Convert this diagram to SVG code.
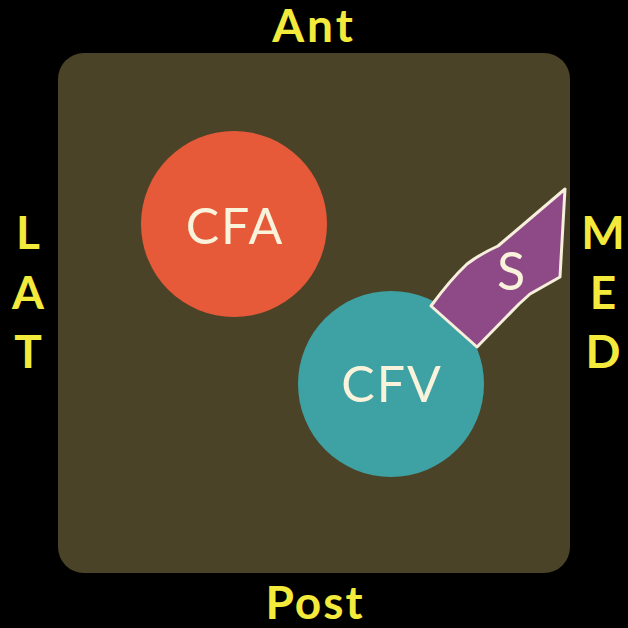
<svg xmlns="http://www.w3.org/2000/svg" width="628" height="628" viewBox="0 0 628 628">
  <style>
    .dir { font-family: Lato, "Open Sans", "Liberation Sans", sans-serif; font-weight: 700; fill: #f3ea3c; text-anchor: middle; }
    .lbl { font-family: Lato, "Open Sans", "Liberation Sans", sans-serif; fill: #faf3dc; text-anchor: middle; }
  </style>
  <defs>
    <filter id="shadow" x="-20%" y="-20%" width="140%" height="140%">
      <feDropShadow dx="1" dy="1.5" stdDeviation="1" flood-color="#000" flood-opacity="0.45"/>
    </filter>
  </defs>
  <rect width="628" height="628" fill="#000"/>
  <!-- field -->
  <rect id="field" x="58" y="53" width="512" height="520" rx="26" fill="#4b4327"/>

  <!-- orientation labels -->
  <g id="orientation">
    <text class="dir" x="314" y="42" font-size="46" letter-spacing="3">Ant</text>
    <text class="dir" x="315" y="619" font-size="46" letter-spacing="2">Post</text>
    <text class="dir" x="28" y="249" font-size="46">L</text>
    <text class="dir" x="28" y="309" font-size="46">A</text>
    <text class="dir" x="28" y="368" font-size="46">T</text>
    <text class="dir" x="603" y="249" font-size="46">M</text>
    <text class="dir" x="603" y="309" font-size="46">E</text>
    <text class="dir" x="603" y="368" font-size="46">D</text>
  </g>

  <g id="CFA">
    <circle cx="234" cy="224" r="93" fill="#e65a3a"/>
    <text class="lbl" x="235" y="244" font-size="50" letter-spacing="2">CFA</text>
  </g>

  <g id="CFV">
    <circle cx="391" cy="384" r="93" fill="#3ea2a4"/>
    <text class="lbl" x="392" y="402" font-size="50" letter-spacing="2">CFV</text>
  </g>

  <g id="S">
    <path d="M565,189 L560,277 L530,294 L519,304 L477,347 L431,306 Q450,280 467,264 Q480,254 498,246 Z" fill="#8d4a86" stroke="#f6efdc" stroke-width="3" stroke-linejoin="round"/>
    <text class="lbl" x="511" y="290" font-size="52">S</text>
  </g>
</svg>
